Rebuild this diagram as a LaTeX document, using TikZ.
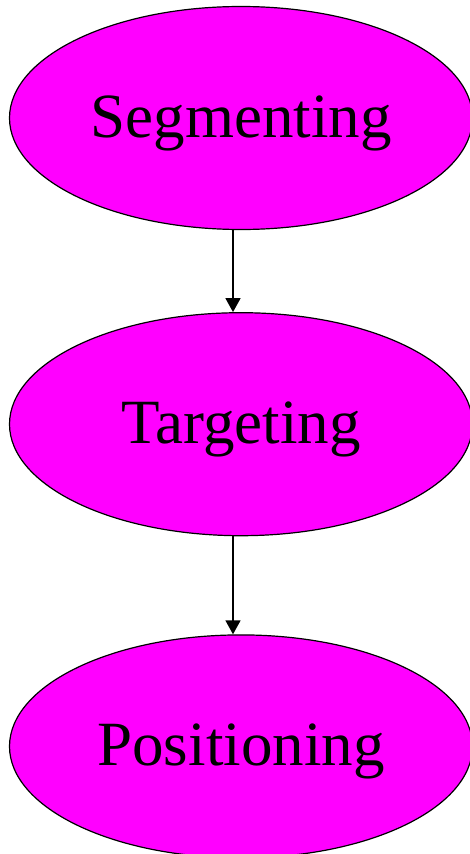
\documentclass[tikz,border=0pt]{standalone}
\usepackage{fontspec}
\setmainfont{Liberation Serif}
\usepackage{tikz}
\usetikzlibrary{positioning,shapes.geometric,arrows.meta}
\definecolor{stage}{HTML}{FF00FF}

\begin{document}
\begin{tikzpicture}[
  x=1pt,y=1pt,
  font=\fontsize{63}{70}\selectfont,
  phase/.style={ellipse,draw,line width=1.2pt,fill=stage,inner sep=0pt,text height=43pt,text depth=4pt,minimum width=463pt,minimum height=223pt},
  link/.style={line width=1.6pt,-{Triangle[length=14pt,width=15pt]}}
]
\useasboundingbox (0,0) rectangle (470,-854);

\node[phase] at (241,-118) (seg) {Segmenting};
\node[phase,below=82pt of seg] (tgt) {Targeting};
\node[phase,below=98pt of tgt] (pos) {Positioning};

\draw[link] ([xshift=-8pt]seg.south) -- ([xshift=-8pt]tgt.north);
\draw[link] ([xshift=-8pt]tgt.south) -- ([xshift=-8pt]pos.north);
\end{tikzpicture}
\end{document}
